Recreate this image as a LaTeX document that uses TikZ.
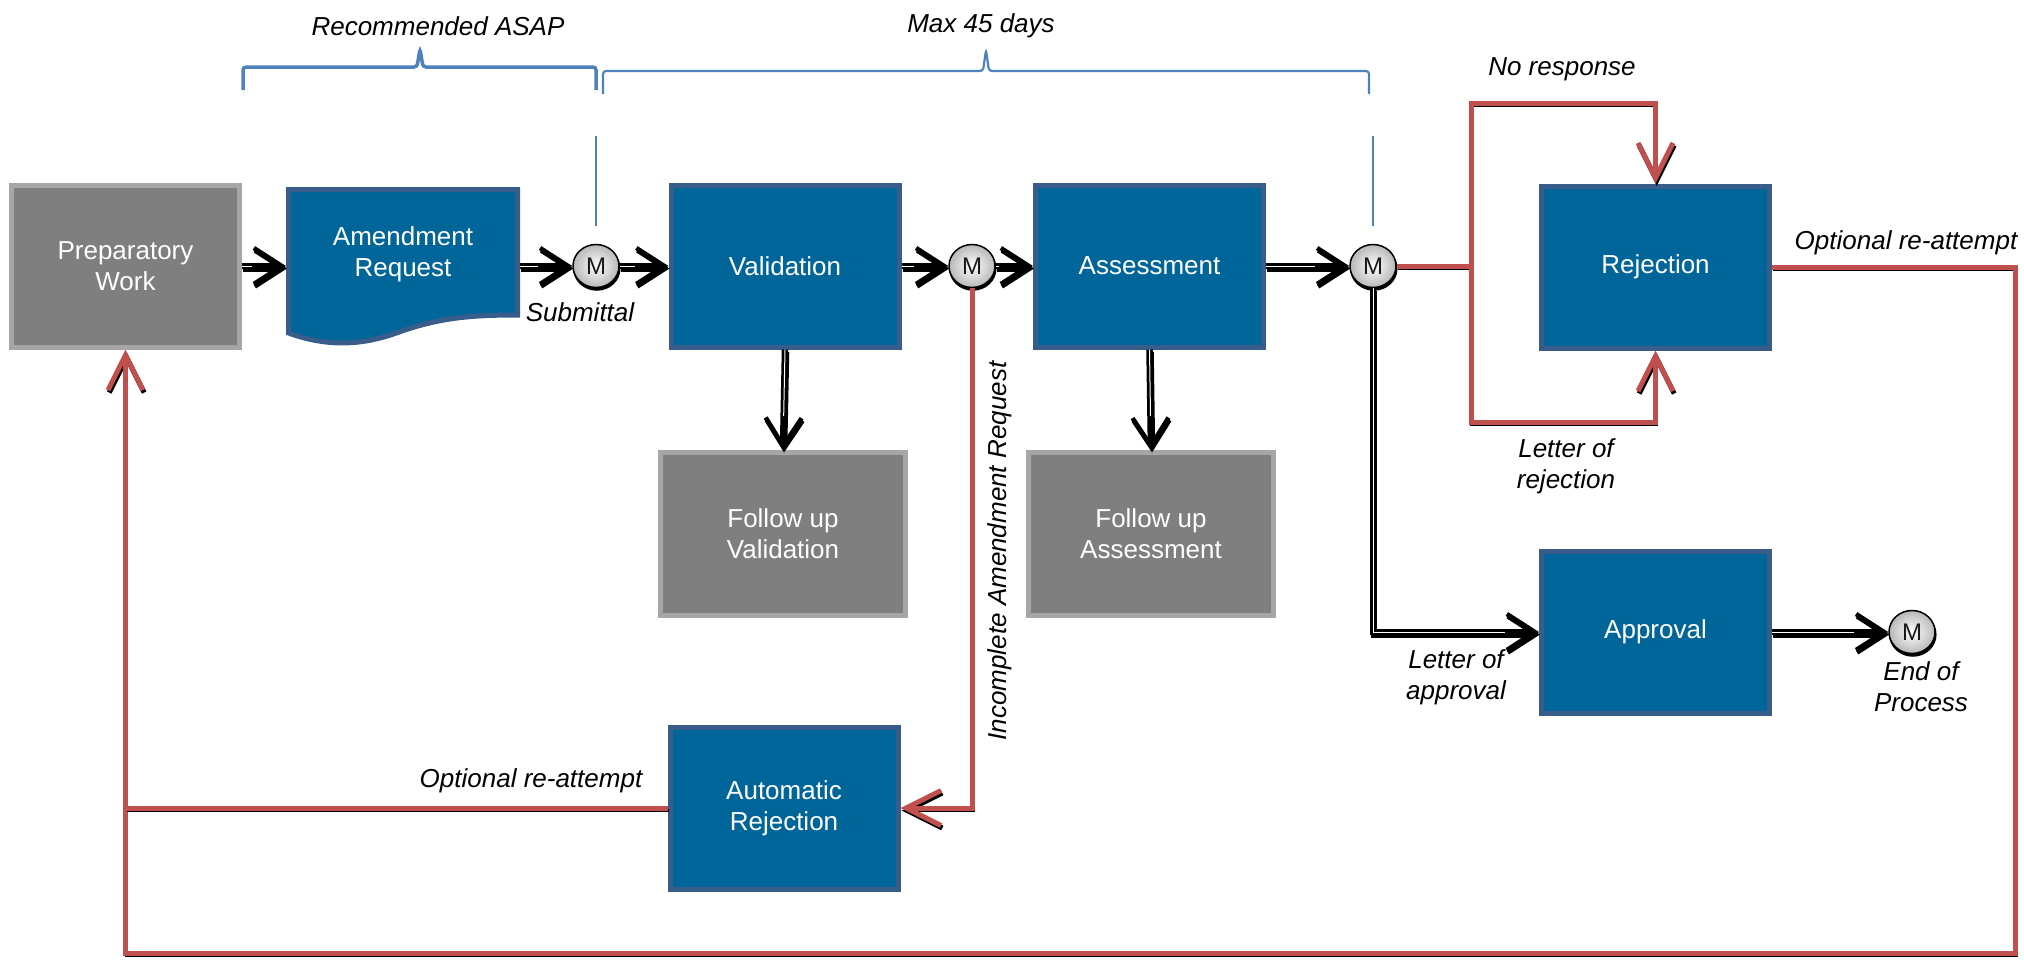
\documentclass[tikz,border=0pt]{standalone}
\usepackage{fontspec}
\setmainfont{Liberation Sans}
\usetikzlibrary{arrows.meta,shapes.geometric,shadows}

\definecolor{boxblue}{RGB}{0,101,153}
\definecolor{boxblueedge}{RGB}{56,93,138}
\definecolor{boxgray}{RGB}{127,127,127}
\definecolor{boxgrayedge}{RGB}{166,166,166}
\definecolor{flowred}{RGB}{192,80,77}
\definecolor{spanblue}{RGB}{79,129,189}

\tikzset{
  txt/.style={font=\fontsize{26}{31}\selectfont, align=center},
  lbl/.style={align=center, font=\fontsize{26}{31}\selectfont\itshape, text=black, inner sep=0pt},
  bluebox/.style={rectangle, txt, text=white, draw=boxblueedge, fill=boxblue,
    line width=5pt, minimum width=228pt, minimum height=162pt, inner sep=0pt},
  graybox/.style={rectangle, txt, text=white, draw=boxgrayedge, fill=boxgray,
    line width=5pt, minimum width=228pt, minimum height=162pt, inner sep=0pt},
  milestone/.style={ellipse, draw=black, line width=1.5pt, inner sep=0pt,
    minimum width=46pt, minimum height=43pt, inner color=white, outer color=black!28,
    font=\fontsize{24}{28}\selectfont, text=black!90,
    copy shadow={shadow xshift=0.8pt, shadow yshift=-2.5pt, fill=black, draw=black}},
  % black flow lines: thick black stroke with a thin white core and a shadow
  blkline/.style={draw=black, line width=6.5pt,
    -{Straight Barb[length=28pt,width=36pt,line width=4.5pt]}},
  blkshade/.style={blkline, transform canvas={shift={(1pt,-2.5pt)}}},
  blkcore/.style={draw=white, line width=1pt, shorten >=34pt},
  % red flow lines with a thin black shadow
  redline/.style={draw=flowred, line width=5pt},
  redshade/.style={draw=black, line width=3.5pt, transform canvas={shift={(1.2pt,-2.5pt)}}},
  rtip/.style={-{Straight Barb[length=35pt,width=35pt,line width=5pt]}},
  span/.style={draw=spanblue, rounded corners=3pt},
}

\newcommand\blkflow[1]{%
  \draw[blkshade] #1;
  \draw[blkline] #1;
  \draw[blkcore] #1;}
\newcommand\redflow[2][]{%
  \draw[redshade,#1] #2;
  \draw[redline,#1] #2;}

\begin{document}
\begin{tikzpicture}[x=1pt, y=-1pt]
\useasboundingbox (0,0) rectangle (2024,959);

% ---------- process boxes ----------
\node[graybox] (prep) at (125.5,266) {Preparatory\\Work};

% amendment request: document shape around an anchor node
\node[rectangle, draw=none, inner sep=0pt, outer sep=0pt,
      minimum width=234pt, minimum height=158pt] (amreq) at (403,266) {};
\draw[draw=boxblueedge, fill=boxblue, line width=5pt]
  (288.5,189.5) -- (517.5,189.5) -- (517.5,315)
  .. controls (470,315) and (440,318) .. (402,331)
  .. controls (365,345) and (330,348) .. (288.5,333) -- cycle;
\node[txt, text=white] (amreqtext) at (403,254) {Amendment\\Request};

\node[milestone] (m1) at (596,266) {M};
\node[bluebox] (val) at (785,266) {Validation};
\node[milestone] (m2) at (972,266) {M};
\node[bluebox] (assess) at (1149.5,266) {Assessment};
\node[milestone] (m3) at (1373,266) {M};
\node[bluebox] (rej) at (1655.5,267) {Rejection};

\node[graybox, minimum width=245pt, minimum height=163pt] (fuv) at (783,534) {Follow up\\Validation};
\node[graybox, minimum width=245pt, minimum height=163pt] (fua) at (1151,534) {Follow up\\Assessment};

\node[bluebox] (appr) at (1655.5,632) {Approval};
\node[milestone] (mend) at (1912,632) {M};
\node[bluebox] (autorej) at (784,808) {Automatic\\Rejection};

% ---------- time spans ----------
\draw[span, line width=3.5pt] (243,90) -- (243,67) -- (417,67) -- (420,49) -- (423,67) -- (596,67) -- (596,90);
\draw[span, line width=2.2pt] (603,94) -- (603,71) -- (983,71) -- (986,50) -- (989,71) -- (1369,71) -- (1369,94);
\draw[draw=spanblue, line width=1.5pt] (m1.north) ++(0,-18) -- ++(0,-90);
\draw[draw=spanblue, line width=1.5pt] (m3.north) ++(0,-18) -- ++(0,-90);
\node[lbl] (lblasap) at (438,26) {Recommended ASAP};
\node[lbl] (lbl45) at (981,26) {Max 45 days};

% ---------- main flow ----------
\blkflow{(prep.east) -- (amreq.west |- prep.east)}
\blkflow{(amreq.east) -- (m1.west)}
\blkflow{(m1.east) -- (val.west)}
\blkflow{(val.east) -- (m2.west)}
\blkflow{(m2.east) -- (assess.west)}
\blkflow{(assess.east) -- (m3.west)}
\blkflow{(val.south) -- (fuv.north)}
\blkflow{(assess.south) -- (fua.north)}
\blkflow{(m3.south) |- (appr.west)}
\blkflow{(appr.east) -- (mend.west)}

% ---------- rejection paths ----------
\coordinate (jn) at (1471,266);
\coordinate (nrtop) at (1471,103);
\coordinate (lrbot) at (1471,422);
\coordinate (rc) at (2015,953);
\redflow{(m3.east) -- (jn)}
\redflow[rtip]{(jn) |- (rej.north |- nrtop) -- (rej.north)}
\redflow[rtip]{(jn) |- (rej.south |- lrbot) -- (rej.south)}
\redflow[rtip]{(rej.east) -| (rc) -| (prep.south)}
\redflow[rtip]{(m2.south) |- (autorej.east)}
\redflow{(autorej.west) -- (autorej.west -| prep.south)}

% ---------- labels ----------
\node[lbl] (lblsub) at (580,312) {Submittal};
\node[lbl, rotate=90] (lblinc) at (1000,551) {Incomplete Amendment Request};
\node[lbl] (lblopt1) at (531,781) {Optional re-attempt};
\node[lbl] (lblopt2) at (1906,243) {Optional re-attempt};
\node[lbl] (lblnr) at (1562,69) {No response};
\node[lbl] (lblrej) at (1566,466) {Letter of\\rejection};
\node[lbl] (lblappr) at (1456,677) {Letter of\\approval};
\node[lbl] (lblend) at (1921,687) {End of\\Process};
\end{tikzpicture}
\end{document}
